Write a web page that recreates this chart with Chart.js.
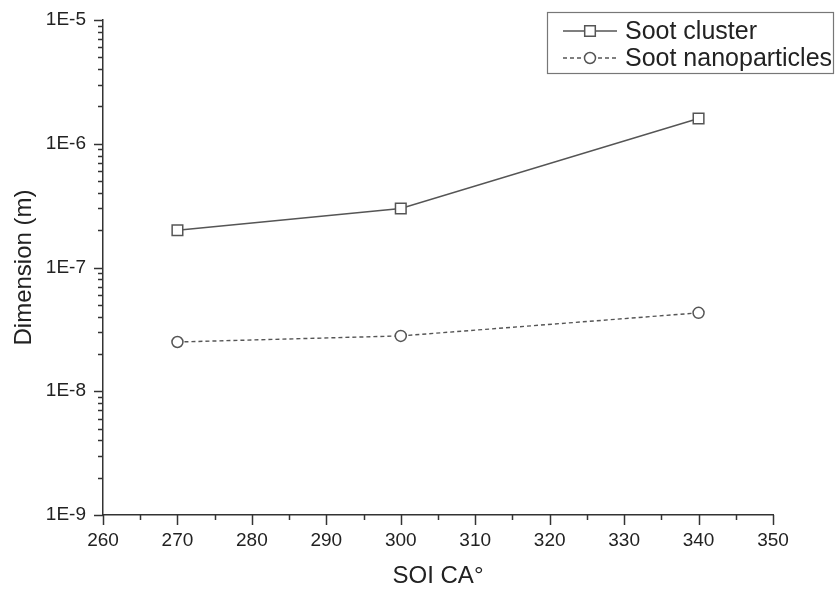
<!DOCTYPE html>
<html>
<head>
<meta charset="utf-8">
<script src="https://cdn.jsdelivr.net/npm/chart.js@4.4.1/dist/chart.umd.min.js"></script>
<style>
  html, body { margin: 0; padding: 0; background: #fff; }
  #wrap { width: 838px; height: 591px; }
</style>
</head>
<body>
<div id="wrap"><canvas id="c" width="838" height="591"></canvas></div>
<script>
// data
const soiAngles = [270, 300, 340];
const sootCluster = [2.0e-7, 3.0e-7, 1.6e-6];
const sootNano = [2.5e-8, 2.8e-8, 4.3e-8];
const seriesNames = ["Soot cluster", "Soot nanoparticles"];
const yDecades = [1e-9, 1e-8, 1e-7, 1e-6, 1e-5];
const xMin = 260, xMax = 350, xStep = 10;

const font = "'Liberation Sans', Arial, sans-serif";
const axisColor = "#333";
const lineColor = "#555";

// minor ticks 2..9 in each decade
function buildLogTicks() {
    let t = [];
    yDecades.forEach((d, i) => {
        t.push({ value: d, major: true });
        if (i < yDecades.length - 1) {
            for (let k = 2; k <= 9; k++) t.push({ value: d * k, major: false });
        }
    });
    return t;
}

// tick marks drawn by hand so minor ones can be shorter
const tickMarks = {
    id: "tickMarks",
    afterDraw(chart) {
        const ctx = chart.ctx;
        const xs = chart.scales.x, ys = chart.scales.y;
        const area = chart.chartArea;
        ctx.save();
        ctx.strokeStyle = axisColor;
        ctx.lineWidth = 1.5;
        ys.ticks.forEach(t => {
            const y = Math.round(ys.getPixelForValue(t.value)) + 0.5;
            const len = t.major ? 9 : 5;
            ctx.beginPath();
            ctx.moveTo(area.left, y);
            ctx.lineTo(area.left - len, y);
            ctx.stroke();
        });
        for (let v = xMin; v <= xMax; v += xStep / 2) {
            const x = Math.round(xs.getPixelForValue(v)) + 0.5;
            const len = (v % xStep === 0) ? 10 : 5;
            ctx.beginPath();
            ctx.moveTo(x, area.bottom);
            ctx.lineTo(x, area.bottom + len);
            ctx.stroke();
        }
        ctx.restore();
    }
};

// boxed legend in the top right corner
const boxLegend = {
    id: "boxLegend",
    afterDraw(chart) {
        const ctx = chart.ctx;
        const left = 547, top = 12, w = 286, h = 61;
        ctx.save();
        ctx.fillStyle = "#fff";
        ctx.fillRect(left, top, w, h);
        ctx.strokeStyle = "#777";
        ctx.lineWidth = 1.2;
        ctx.strokeRect(left + 0.5, top + 0.5, w, h);
        chart.data.datasets.forEach((ds, i) => {
            const y = top + 19 + i * 27;
            ctx.strokeStyle = ds.borderColor;
            ctx.lineWidth = ds.borderWidth;
            ctx.setLineDash(ds.borderDash || []);
            ctx.beginPath();
            ctx.moveTo(563, y);
            ctx.lineTo(617, y);
            ctx.stroke();
            ctx.setLineDash([]);
            ctx.fillStyle = "#fff";
            ctx.lineWidth = ds.pointBorderWidth;
            ctx.strokeStyle = ds.pointBorderColor;
            Chart.helpers.drawPoint(ctx, {
                pointStyle: ds.pointStyle,
                radius: ds.pointRadius,
                borderWidth: ds.pointBorderWidth
            }, 590, y);
            ctx.fillStyle = "#222";
            ctx.font = "25px " + font;
            ctx.textBaseline = "middle";
            ctx.fillText(ds.label, 625, y + 1);
        });
        ctx.restore();
    }
};

new Chart(document.getElementById("c"), {
    type: "line",
    data: {
        datasets: [
            {
                label: seriesNames[0],
                data: soiAngles.map((x, i) => ({ x: x, y: sootCluster[i] })),
                borderColor: lineColor,
                borderWidth: 1.4,
                pointStyle: "rect",
                pointRadius: 7.5,
                pointBackgroundColor: "#fff",
                pointBorderColor: lineColor,
                pointBorderWidth: 1.5,
                tension: 0
            },
            {
                label: seriesNames[1],
                data: soiAngles.map((x, i) => ({ x: x, y: sootNano[i] })),
                borderColor: lineColor,
                borderWidth: 1.4,
                borderDash: [4, 3],
                pointStyle: "circle",
                pointRadius: 5.5,
                pointBackgroundColor: "#fff",
                pointBorderColor: lineColor,
                pointBorderWidth: 1.5,
                tension: 0
            }
        ]
    },
    options: {
        responsive: false,
        animation: false,
        clip: false,
        layout: { padding: { top: 20, right: 65, left: 0, bottom: 0 } },
        plugins: {
            legend: { display: false },
            tooltip: { enabled: false }
        },
        scales: {
            x: {
                type: "linear",
                min: xMin,
                max: xMax,
                ticks: {
                    stepSize: xStep,
                    padding: 14,
                    color: "#222",
                    font: { family: font, size: 19 }
                },
                grid: { display: false, drawTicks: false },
                border: { display: true, color: axisColor, width: 1.5 },
                title: {
                    display: true,
                    text: "SOI CA°",
                    color: "#222",
                    font: { family: font, size: 24 },
                    padding: { top: 0, bottom: 0 }
                },
                afterFit(s) { s.height = 76; }
            },
            y: {
                type: "logarithmic",
                min: yDecades[0],
                max: yDecades[yDecades.length - 1],
                afterBuildTicks(s) { s.ticks = buildLogTicks(); },
                ticks: {
                    autoSkip: false,
                    padding: 17,
                    color: "#222",
                    font: { family: font, size: 19 },
                    callback: (v) => {
                        const e = Math.log10(v);
                        return Math.abs(e - Math.round(e)) < 1e-6 ? "1E" + Math.round(e) : "";
                    }
                },
                grid: { display: false, drawTicks: false },
                border: { display: true, color: axisColor, width: 1.5 },
                title: {
                    display: true,
                    text: "Dimension (m)",
                    color: "#222",
                    font: { family: font, size: 24 },
                    padding: { top: 10, bottom: 0 }
                },
                afterFit(s) {
                    s.width = 103;
                    s.paddingTop = 0;
                    s.paddingBottom = 0;
                }
            }
        }
    },
    plugins: [tickMarks, boxLegend]
});
</script>
</body>
</html>
